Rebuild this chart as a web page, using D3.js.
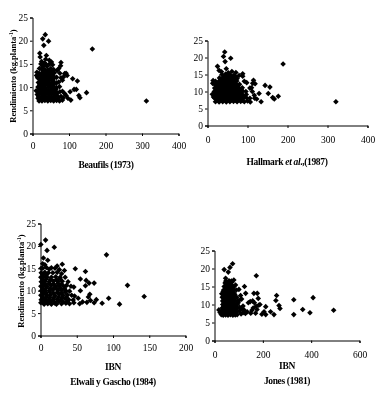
<!DOCTYPE html>
<html>
<head>
<meta charset="utf-8">
<script src="https://cdn.jsdelivr.net/npm/d3@7.9.0/dist/d3.min.js"></script>
<style>
  html, body { margin: 0; background: #fff; }
  svg { display: block; filter: blur(0.3px); }
  text { font-family: "Liberation Serif", serif; fill: #000; }
  .tick text { font-size: 9.5px; }
  .title { font-size: 9.5px; font-weight: bold; letter-spacing: -0.35px; }
</style>
</head>
<body>
<svg id="chart" width="388" height="397"></svg>
<script>
// [index, yield]
const beaufilsPoints = [
  [312,7],[164,18.2],[148,8.8],[130,7.7],[127,8.2],[123,11.3],[110,11.8],[120,9.5],[114,9.5],[103,9],
  [105,7.2],[97,7.6],[92,8.2],[88,8.6],[95,12.5],[92,13],[88,12.9],[85,12.2],[82,11.5],[78,15.3],
  [77,14.6],[72,14],[68,13.6],[75,13],[78,12],[35,21.3],[28,20.4],[44,19.9],[31,19],[20,17.3],
  [21,16.5],[38,16.8],[36,16],[25,15.5],[46,15.8],[52,15.4],[55,14.8],[47,15],[30,14.6],[40,14.5],
  [12,13.2],[11,12.5],[14,12],[10,9.2],[13,8.4],[15,7.6],
  [18,7],[26,7],[34,7.1],[42,7],[50,7.1],[58,7],[66,7.1],[74,7],[82,7.2],
  [17,8],[24,7.8],[31,8],[39,7.8],[46,8],[54,7.8],[62,8],[70,7.9],[78,8],[84,7.7],
  [16,9],[23,8.9],[30,9],[37,8.8],[45,9],[52,8.9],[60,9],[67,8.8],[75,9],[82,9.1],
  [15,10],[22,9.9],[29,10],[36,9.8],[44,10],[51,9.9],[58,10],[66,9.9],[74,10.1],
  [16,11],[23,10.9],[30,11],[37,10.9],[44,11],[52,10.8],[59,11],[66,10.9],[72,11.1],
  [17,12],[24,11.9],[31,12],[38,11.9],[45,12],[52,11.9],[60,12],[66,12.1],
  [18,13],[25,12.9],[32,13],[39,12.9],[46,13],[53,12.9],[60,13.1],
  [19,14],[26,13.9],[34,13.8],[42,13.7],[50,14],[58,13.8],[23,15],[33,15.2],
  [20,8.5],[28,8.4],[36,8.5],[44,8.4],[52,8.5],[60,8.4],[20,9.5],[28,9.4],[36,9.5],[44,9.4],
  [52,9.5],[60,9.4],[20,10.5],[28,10.4],[36,10.5],[44,10.4],[52,10.5],[22,11.5],[30,11.4],[38,11.5],
  [46,11.4],[24,12.5],[32,12.4],[40,12.5],[48,12.4],
  [22,7.5],[30,7.4],[38,7.5],[46,7.4],[54,7.5],[62,7.4],[70,7.5],[66,8.5],[58,10.5],[56,11.5],
  [56,12.5],[28,13.5],[36,13.4],[44,13.5],[52,13.4],[28,14.4],[37,14.9],[64,9.5]
];
const hallmarkPoints = [
  [321,7],[189,18.1],[177,8.6],[167,7.8],[163,8.2],[156,11.3],[144,11.8],[152,9.4],[134,7],[129,9.4],
  [119,12.3],[115,13.3],[110,11.1],[117,8.9],[123,7.8],[107,6.9],[88,15.2],[88,14.5],[92,13],[98,12.6],
  [58,19.8],[43,21.6],[40,20.3],[44,18.8],[25,17.4],[29,16.2],[47,16.7],[61,15.9],[71,15.6],[79,14.7],
  [113,12.4],[106,11],[112,10],[118,8],[14,13.2],[13,12.4],[12,9.2],[15,8.4],[35,15.8],[52,15.5],
  [20,7],[29,6.9],[38,7],[47,6.9],[56,7],[65,7.1],[74,7],[83,7.1],[92,7],[100,7.2],
  [18,8],[26,7.9],[35,8],[44,7.8],[53,8],[62,7.9],[71,8],[80,7.9],[89,8],[98,8.1],[106,8],
  [17,9],[25,8.9],[34,9],[43,8.9],[52,9],[61,8.8],[70,9],[79,8.9],[88,9],[97,9.1],
  [17,10],[25,9.9],[34,10],[43,9.9],[52,10],[61,9.9],[70,10],[79,9.9],[88,10.1],[96,10],
  [18,11],[26,10.9],[35,11],[44,10.9],[53,11],[62,10.8],[71,11],[80,10.9],[87,11.1],
  [19,12],[27,11.9],[36,12],[45,11.9],[54,12],[63,11.9],[72,12],[80,12.1],
  [20,13],[28,12.9],[37,13],[46,12.9],[55,13],[64,12.9],[73,13.1],
  [30,14],[38,13.9],[47,14],[56,13.9],[65,14],[74,13.8],[36,15],[45,15.1],[56,14.9],[66,14.8],
  [22,8.5],[30,8.4],[39,8.5],[48,8.4],[57,8.5],[66,8.4],[75,8.5],[22,9.5],[30,9.4],[39,9.5],
  [48,9.4],[57,9.5],[66,9.4],[75,9.5],[22,10.5],[30,10.4],[39,10.5],[48,10.4],[57,10.5],[66,10.4],
  [24,11.5],[32,11.4],[41,11.5],[50,11.4],[59,11.5],[68,11.4],[26,12.5],[34,12.4],[43,12.5],[52,12.4],
  [24,7.5],[33,7.4],[42,7.5],[51,7.4],[60,7.5],[69,7.4],[78,7.5],[87,7.4],[84,8.5],[92,8.5],
  [84,9.5],[75,10.5],[84,10.6],[75,11.5],[61,12.5],[70,12.4],[33,13.5],[42,13.4],[51,13.5],[60,13.4],
  [69,13.5],[41,14.5],[50,14.4],[60,14.5],[70,14.4]
];
const elwaliPoints = [
  [143,8.7],[120,11.2],[91,18],[109,7],[94,8.3],[85,7.2],[77,8],[74,7.3],[74,11.7],[67,11.7],
  [62,14.3],[63,12.3],[55,12.6],[48,14.9],[62,11.1],[55,10],[30,15.9],[33,14.5],[23,15.5],[19,19.7],
  [9,19],[7,21.3],[0.5,20.3],[10,16.8],[4,17.3],[3,16],[6,15.8],[1,15],
  [68,9.2],[66,8.6],[69,7.8],[64,7.4],[58,7.5],[54,7.1],[52,8.3],[47,8.8],[46,10.8],[42,11],
  [38,12],[36,11.2],[34,13],[29,13.8],[26,14.7],[20,15],[15,15.1],[12,14.8],
  [0.5,7.3],[5,7],[10,7.1],[15,7],[20,7.2],[22,7],[29,7.1],[35,7.2],[40,7.1],[46,7.3],
  [1,8],[6,8.1],[11,8],[17,7.9],[23,8.1],[28,8],[34,8.2],[39,8],[45,7.9],
  [0.5,9],[4,9.2],[9,9],[14,9.1],[20,8.9],[26,9.2],[31,9],[37,9.1],[43,9],
  [1,10],[6,10.1],[12,10],[17,10.2],[24,10],[29,10.1],[35,10],[40,9.9],
  [0.5,11],[4,11.1],[9,11],[15,11.2],[21,11],[26,11.1],[32,11],
  [1,12],[6,12.1],[12,12],[18,12.1],[24,12],[30,12.1],
  [0.5,13],[4,13.1],[9,13],[15,13],[21,13.1],[27,13],[1,14],[6,14.1],[11,14],[17,14],[23,14.1],[3,15],[8,15.2],
  [3,8.5],[8,8.6],[13,8.5],[18,8.4],[3,9.6],[8,9.5],[13,9.7],[18,9.5],[3,10.5],[8,10.6],
  [13,10.5],[19,10.6],[3,11.6],[7,11.5],[12,11.6],[18,11.5],[3,12.5],[8,12.6],[14,12.5],[3,13.6],[8,13.5],
  [3,7.6],[8,7.5],[13,7.6],[19,7.5],[25,7.6],[31,7.5],[37,7.6],[25,8.6],[30,8.5],[36,8.6],
  [23,9.6],[29,9.5],[34,9.7],[22,10.5],[27,10.6],[33,10.5],[24,11.6],[29,11.5],[22,12.5],[27,12.6]
];
const jonesPoints = [
  [493,8.4],[408,11.9],[395,7.7],[365,8.6],[328,11.3],[328,7.2],[257,12.5],[254,11.1],[267,9.7],[271,8.9],
  [246,7.2],[232,8],[212,9.4],[212,7.2],[173,18],[75,21.3],[40,19.7],[64,20.3],[57,19],[46,17.3],
  [80,16.8],[124,15],[101,14.2],[87,15.4],[163,13.1],[177,13.1],[181,11.7],[129,13.1],
  [188,10],[183,9.8],[176,8.6],[170,7.6],[196,7.3],[205,8],[165,10.5],[158,11],[148,10.8],[140,10.5],
  [155,8.4],[150,7.6],[135,8],[128,7.5],[122,8.5],[118,9.6],[112,11.5],[108,12.5],[172,9.5],[160,9],
  [18,8.5],[23,7.8],[28,7.2],
  [36,7],[46,7.1],[56,7],[66,7.2],[76,7],[86,7.1],[94,7.2],
  [30,8],[40,8.1],[50,8],[60,8.1],[70,8],[80,8.1],[90,8],[102,8.2],
  [32,9],[42,9.1],[52,9],[62,9.1],[72,9],[82,9.1],[92,9],[104,9.2],
  [34,10],[44,10.1],[54,10],[64,10.1],[74,10],[84,10.1],[94,10],
  [34,11],[44,11.1],[54,11],[64,11.1],[74,11],[84,11.1],[96,11],
  [32,12],[42,12.1],[52,12],[62,12.1],[72,12],[82,12.1],[92,12],
  [30,13],[40,13.1],[50,13],[60,13.1],[70,13],[80,13.1],
  [38,14],[48,14.1],[58,14],[68,14.1],[78,14],[90,14],
  [40,15],[50,15.1],[60,15],[70,15.1],[80,15],[44,16],[54,16.1],[64,16],[72,16.2],
  [37,8.5],[47,8.6],[57,8.5],[67,8.6],[77,8.5],[87,8.6],[38,9.5],[48,9.6],[58,9.5],[68,9.6],
  [78,9.5],[88,9.6],[39,10.5],[49,10.6],[59,10.5],[69,10.6],[79,10.5],[39,11.5],[49,11.6],[59,11.5],
  [69,11.6],[79,11.5],[38,12.5],[48,12.6],[58,12.5],[68,12.6],[78,12.5],[44,13.5],[54,13.6],[64,13.5],
  [74,13.6],[46,14.5],[56,14.6],[66,14.5],[76,14.6],
  [42,7.5],[52,7.6],[62,7.5],[72,7.6],[82,7.5],[110,7.4],[118,7.7],[112,8.8],[98,10.5],[102,11.2],
  [49,15.5],[59,15.6],[69,15.5],[47,16.5],[60,16.6],[70,16.5],[36,13.6],[84,12.8]
];

const xTicks1 = [0, 100, 200, 300, 400];
const xTicks3 = [0, 50, 100, 150, 200];
const xTicks4 = [0, 200, 400, 600];
const yTicks = [0, 5, 10, 15, 20, 25];

const svg = d3.select("#chart");

function drawPanel(points, xTicks, box) {
  const x = d3.scaleLinear().domain(d3.extent(xTicks)).range([box.left, box.right]);
  const y = d3.scaleLinear().domain([0, 25]).range([box.bottom, box.top]);

  svg.append("g")
    .attr("transform", `translate(0,${box.bottom})`)
    .call(d3.axisBottom(x).tickValues(xTicks).tickFormat(d3.format("d")).tickSize(2.5).tickPadding(box.xPad))
    .call(styleAxis);

  svg.append("g")
    .attr("transform", `translate(${box.left},0)`)
    .call(d3.axisLeft(y).tickValues(yTicks).tickSize(2.5).tickPadding(2))
    .call(styleAxis);

  const diamond = d3.symbol().type(d3.symbolDiamond2).size(20);
  svg.append("g")
    .selectAll("path")
    .data(points)
    .join("path")
    .attr("d", diamond)
    .attr("transform", (d) => `translate(${x(d[0])},${y(d[1])})`)
    .attr("fill", "#000");
}

function styleAxis(g) {
  g.selectAll(".domain").attr("stroke", "#000").attr("stroke-width", 1);
  g.selectAll(".tick line").attr("stroke", "#000");
}

function addTitle(text, cx, cy) {
  return svg.append("text")
    .attr("class", "title")
    .attr("x", cx)
    .attr("y", cy)
    .attr("text-anchor", "middle")
    .text(text);
}

function addYTitle(cx, cy, unit) {
  const t = svg.append("text")
    .attr("class", "title")
    .attr("text-anchor", "middle")
    .style("font-size", "8.5px")
    .style("letter-spacing", "0px")
    .attr("transform", `translate(${cx},${cy}) rotate(-90)`);
  t.append("tspan").text(`Rendimiento (kg.${unit}`);
  t.append("tspan").attr("dy", -3).style("font-size", "5.5px").text("-1");
  t.append("tspan").attr("dy", 3).text(")");
}

drawPanel(beaufilsPoints, xTicks1, { left: 32.5, right: 178.5, top: 17.5, bottom: 133.5, xPad: 6 });
drawPanel(hallmarkPoints, xTicks1, { left: 207.5, right: 367.5, top: 40.5, bottom: 125.5, xPad: 8 });
drawPanel(elwaliPoints, xTicks3, { left: 40.5, right: 185.5, top: 223.5, bottom: 335.5, xPad: 6 });
drawPanel(jonesPoints, xTicks4, { left: 214.5, right: 359.5, top: 250.5, bottom: 340.5, xPad: 8 });

addYTitle(16, 76, "planta");
addYTitle(24, 281, "planta");

addTitle("Beaufils (1973)", 106, 168);

const hallmark = addTitle("Hallmark ", 287, 165);
hallmark.append("tspan").attr("font-style", "italic").text("et al");
hallmark.append("tspan").text(".,(1987)");

addTitle("IBN", 113, 370);
addTitle("Elwali y Gascho (1984)", 113, 385);
addTitle("IBN", 287, 369);
addTitle("Jones (1981)", 287, 384);
</script>
</body>
</html>
